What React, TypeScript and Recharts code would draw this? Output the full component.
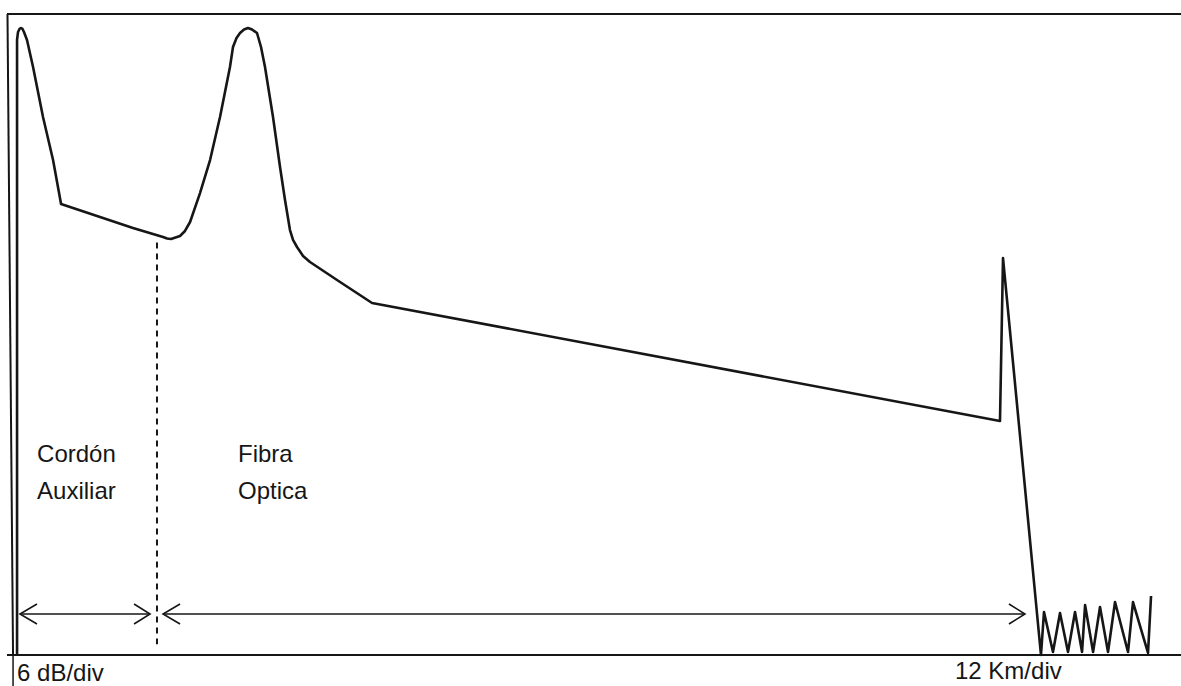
import React from "react";
import { LineChart, Line, XAxis, YAxis, ReferenceLine, ReferenceDot } from "recharts";

// OTDR trace: distance (km) and level (dB)
const distanceKm = [
  0.72, 0.72, 0.82, 0.97, 1.13, 1.28, 1.43, 1.74, 2.36, 3.38, 4.41, 5.23, 12.6, 15.68,
  16.09, 16.5, 17.42, 17.93, 18.45, 19.47, 20.5, 21.52, 22.54, 22.85, 23.21, 23.57,
  23.98, 24.39, 24.8, 25.31, 25.72, 26.13, 26.95, 27.67, 28.18, 28.69, 29.0, 29.41,
  30.03, 30.74, 33.51, 37.1, 101.45, 101.76, 105.65, 105.96, 106.88, 107.6, 108.42,
  109.14, 109.86, 110.17, 110.99, 111.7, 112.52, 113.24, 114.57, 115.08, 116.62, 116.93,
];
const levelDb = [
  0, 57.57, 58.32, 58.6, 58.69, 58.6, 58.32, 57.57, 55.04, 50.36, 46.33, 42.22, 39.97,
  39.13, 38.99, 38.94, 39.22, 39.69, 40.53, 43.24, 46.33, 50.36, 55.04, 56.91, 57.75,
  58.22, 58.55, 58.69, 58.55, 58.22, 56.91, 55.04, 50.36, 45.68, 42.59, 39.78, 38.85,
  38.19, 37.35, 36.79, 35.1, 32.95, 21.9, 37.16, 0, 4.02, 0.28, 3.93, 0.28, 4.02, 0.28,
  4.68, 0.28, 4.49, 0.28, 4.96, 0.28, 4.96, 0.19, 5.52,
];

// section labels and where they sit
const noteText = [
  ["Cordón", "Auxiliar"],
  ["Fibra", "Optica"],
];
const noteKm = [2.77, 23.36];
const noteDb = [18.07, 18.07];

// scale captions under the trace
const scaleText = ["6 dB/div", "12 Km/div"];
const scaleKm = [0.72, 96.84];
const scaleDb = [-2.45, -2.25];

// span arrows and the connector boundary
const arrowFrom = [1.02, 15.68];
const arrowTo = [14.35, 104.01];
const arrowDb = 3.84;
const splitKm = 15.06;

const INK = "#161616";
const FONT = "'Liberation Sans', Arial, sans-serif";

const data = distanceKm.map((km, i) => ({ km, db: levelDb[i] }));

const textBlock = (lines: string[]) => (props: any) => {
  const { x, y } = props.viewBox;
  return (
    <text x={x} y={y} fill={INK} fontSize={24} fontFamily={FONT}>
      {lines.map((s, i) => (
        <tspan key={s} x={x} dy={i === 0 ? 0 : 37}>
          {s}
        </tspan>
      ))}
    </text>
  );
};

const DoubleArrow = (props: any) => {
  const { x1, y1, x2, y2 } = props;
  return (
    <g stroke={INK} strokeWidth={1.6} fill="none">
      <line x1={x1} y1={y1} x2={x2} y2={y2} />
      <polyline points={`${x1 + 17},${y1 - 10} ${x1},${y1} ${x1 + 17},${y1 + 10}`} />
      <polyline points={`${x2 - 16},${y2 - 10} ${x2},${y2} ${x2 - 16},${y2 + 10}`} />
    </g>
  );
};

export default function App() {
  return (
    <div style={{ position: "absolute", left: 0, top: 0, background: "#fff" }}>
      <LineChart
        width={1181}
        height={686}
        data={data}
        margin={{ top: 14, right: 0, left: 7, bottom: 31 }}
      >
        <XAxis type="number" dataKey="km" domain={[-0.31, 120]} hide />
        <YAxis type="number" domain={[0, 60]} hide />

        {/* frame */}
        <ReferenceLine y={60} stroke={INK} strokeWidth={2} ifOverflow="visible" />
        <ReferenceLine y={0} stroke={INK} strokeWidth={2} ifOverflow="visible" />
        <ReferenceLine
          segment={[{ x: -0.26, y: 60 }, { x: 0.31, y: 0 }]}
          stroke={INK}
          strokeWidth={2}
          ifOverflow="visible"
        />
        <ReferenceLine
          segment={[{ x: 0.31, y: 0 }, { x: 0.31, y: -2.9 }]}
          stroke={INK}
          strokeWidth={1.5}
          ifOverflow="visible"
        />

        {/* boundary between patch cord and fibre */}
        <ReferenceLine
          segment={[{ x: splitKm, y: 38.6 }, { x: splitKm, y: 1 }]}
          stroke={INK}
          strokeWidth={2}
          strokeDasharray="6 5"
          ifOverflow="visible"
        />

        {arrowFrom.map((a, i) => (
          <ReferenceLine
            key={"arrow" + i}
            segment={[{ x: a, y: arrowDb }, { x: arrowTo[i], y: arrowDb }]}
            shape={DoubleArrow}
            ifOverflow="visible"
          />
        ))}

        {noteText.map((lines, i) => (
          <ReferenceDot
            key={"note" + i}
            x={noteKm[i]}
            y={noteDb[i]}
            r={0}
            fill="none"
            stroke="none"
            ifOverflow="visible"
            label={{ content: textBlock(lines) }}
          />
        ))}

        {scaleText.map((s, i) => (
          <ReferenceDot
            key={"scale" + i}
            x={scaleKm[i]}
            y={scaleDb[i]}
            r={0}
            fill="none"
            stroke="none"
            ifOverflow="visible"
            label={{ content: textBlock([s]) }}
          />
        ))}

        <Line
          dataKey="db"
          type="linear"
          stroke={INK}
          strokeWidth={2.6}
          strokeLinejoin="round"
          dot={false}
          isAnimationActive={false}
        />
      </LineChart>
    </div>
  );
}
